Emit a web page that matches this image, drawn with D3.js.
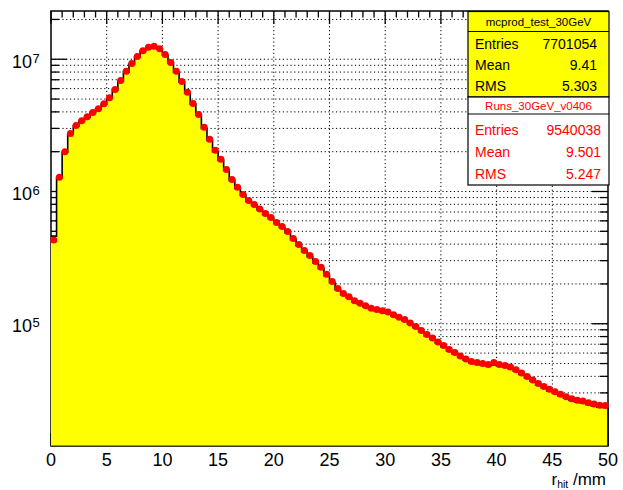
<!DOCTYPE html>
<html>
<head>
<meta charset="utf-8">
<script src="https://cdn.jsdelivr.net/npm/d3@7"></script>
<style>
body{margin:0;background:#fff;}
text{font-family:"Liberation Sans",Arial,Helvetica,sans-serif;}
</style>
</head>
<body>
<div id="plot"></div>
<script>
// histogram binning (r_hit in mm)
var xLow = 0, xHigh = 50, nBins = 100;

// mcprod_test_30GeV (yellow filled histogram)
var mcCounts = [4.6e5,1.27e6,1.98e6,2.72e6,3.12e6,3.40e6,3.65e6,3.92e6,4.20e6,4.57e6,
  5.08e6,5.84e6,6.83e6,8.0e6,9.2e6,1.04e7,1.155e7,1.227e7,1.248e7,1.195e7,
  1.076e7,9.36e6,8.0e6,6.7e6,5.54e6,4.57e6,3.77e6,3.0e6,2.43e6,2.0e6,
  1.72e6,1.445e6,1.213e6,1.055e6,9.33e5,8.4e5,7.83e5,7.25e5,6.7e5,6.24e5,
  5.73e5,5.34e5,4.89e5,4.33e5,3.9e5,3.51e5,3.21e5,2.9e5,2.61e5,2.31e5,
  2.04e5,1.81e5,1.66e5,1.575e5,1.47e5,1.405e5,1.345e5,1.288e5,1.255e5,1.233e5,
  1.2e5,1.15e5,1.1e5,1.053e5,9.94e4,9.32e4,8.7e4,8.1e4,7.63e4,7.12e4,
  6.69e4,6.24e4,5.92e4,5.58e4,5.29e4,5.07e4,4.98e4,4.89e4,4.81e4,4.85e4,
  4.8e4,4.73e4,4.6e4,4.37e4,4.14e4,3.9e4,3.67e4,3.45e4,3.27e4,3.11e4,
  2.98e4,2.85e4,2.73e4,2.63e4,2.56e4,2.52e4,2.45e4,2.39e4,2.34e4,2.33e4];

// Runs_30GeV_v0406 (red markers)
var dataCounts = [4.3e5,1.28e6,2.0e6,2.75e6,3.15e6,3.43e6,3.68e6,3.95e6,4.23e6,4.6e6,
  5.12e6,5.9e6,6.9e6,8.1e6,9.3e6,1.05e7,1.16e7,1.235e7,1.255e7,1.2e7,
  1.085e7,9.45e6,8.1e6,6.8e6,5.62e6,4.63e6,3.82e6,3.06e6,2.48e6,2.05e6,
  1.75e6,1.47e6,1.235e6,1.075e6,9.5e5,8.55e5,7.98e5,7.38e5,6.82e5,6.36e5,
  5.83e5,5.44e5,4.98e5,4.41e5,3.98e5,3.58e5,3.28e5,2.96e5,2.67e5,2.37e5,
  2.09e5,1.85e5,1.69e5,1.6e5,1.495e5,1.43e5,1.37e5,1.31e5,1.28e5,1.256e5,
  1.225e5,1.172e5,1.122e5,1.075e5,1.015e5,9.52e4,8.89e4,8.28e4,7.8e4,7.28e4,
  6.84e4,6.38e4,6.06e4,5.7e4,5.41e4,5.18e4,5.1e4,5.0e4,4.92e4,5.1e4,
  4.92e4,4.84e4,4.71e4,4.48e4,4.25e4,3.99e4,3.76e4,3.54e4,3.36e4,3.19e4,
  3.06e4,2.93e4,2.81e4,2.71e4,2.64e4,2.6e4,2.53e4,2.47e4,2.42e4,2.41e4];

var xTicks = [0,5,10,15,20,25,30,35,40,45,50];
var yDecades = [5,6,7];

var statsMC = {title:'mcprod_test_30GeV', rows:[['Entries','7701054'],['Mean','9.41'],['RMS','5.303']]};
var statsData = {title:'Runs_30GeV_v0406', rows:[['Entries','9540038'],['Mean','9.501'],['RMS','5.247']]};

//Set up the drawing environment here
var margin = {t:11,r:15,b:44,l:51};
var W = 623, H = 490;
var width = W-margin.l-margin.r,
	height = H-margin.t-margin.b;

var svg = d3.select('#plot')
	.append('svg')
	.attr('width',W)
	.attr('height',H);

var plot = svg.append('g')
	.attr('transform','translate('+margin.l+','+margin.t+')');

var x = d3.scaleLinear().domain([xLow,xHigh]).range([0,width]);
var y = d3.scaleLog().domain([1.19e4,2.317e7]).range([height,0]);

var binW = (xHigh-xLow)/nBins;

// grid
var yLogTicks = [];
for (var d=4; d<=7; d++) {
	for (var k=1; k<=9; k++) {
		var v = k*Math.pow(10,d);
		if (v>=y.domain()[0] && v<=y.domain()[1]) yLogTicks.push({v:v, major:k==1});
	}
}
var dash = '1.2,2.6';
plot.selectAll('.gx').data(xTicks.slice(1,-1)).enter().append('line')
	.attr('x1',function(d){return x(d);}).attr('x2',function(d){return x(d);})
	.attr('y1',0).attr('y2',height)
	.style('stroke','#000').style('stroke-width',1).style('stroke-dasharray',dash);
plot.selectAll('.gy').data(yLogTicks).enter().append('line')
	.attr('x1',0).attr('x2',width)
	.attr('y1',function(d){return y(d.v);}).attr('y2',function(d){return y(d.v);})
	.style('stroke','#000').style('stroke-width',1).style('stroke-dasharray',dash);

// ticks on all four sides
yLogTicks.forEach(function(t){
	var len = t.major ? 16 : 8;
	plot.append('line').attr('x1',0).attr('x2',len).attr('y1',y(t.v)).attr('y2',y(t.v))
		.style('stroke','#000').style('stroke-width',1.3);
	plot.append('line').attr('x1',width-len).attr('x2',width).attr('y1',y(t.v)).attr('y2',y(t.v))
		.style('stroke','#000').style('stroke-width',1.3);
});
for (var m=xLow; m<=xHigh; m++) {
	var len = (m%5==0) ? 13 : 6.5;
	plot.append('line').attr('x1',x(m)).attr('x2',x(m)).attr('y1',0).attr('y2',len)
		.style('stroke','#000').style('stroke-width',1.3);
	plot.append('line').attr('x1',x(m)).attr('x2',x(m)).attr('y1',height-len).attr('y2',height)
		.style('stroke','#000').style('stroke-width',1.3);
}

// frame
plot.append('rect').attr('x',0).attr('y',0).attr('width',width).attr('height',height)
	.style('fill','none').style('stroke','#000').style('stroke-width',1.5);

// histogram (filled, step)
var steps = mcCounts.map(function(c,i){return {x:xLow+i*binW, c:c};});
steps.push({x:xHigh, c:mcCounts[nBins-1]});

var area = d3.area().curve(d3.curveStepAfter)
	.x(function(d){return x(d.x);})
	.y0(height)
	.y1(function(d){return y(d.c);});
plot.append('path').datum(steps).attr('d',area).style('fill','#ffff00').style('stroke','none');

var line = d3.line().curve(d3.curveStepAfter)
	.x(function(d){return x(d.x);})
	.y(function(d){return y(d.c);});
plot.append('path').datum(steps).attr('d',line)
	.style('fill','none').style('stroke','#000').style('stroke-width',1.6);
plot.append('line').attr('x1',width).attr('x2',width).attr('y1',y(mcCounts[nBins-1])).attr('y2',height)
	.style('stroke','#000').style('stroke-width',1.6);
plot.append('line').attr('x1',0).attr('x2',width).attr('y1',height).attr('y2',height)
	.style('stroke','#333').style('stroke-width',1);

// data markers
plot.selectAll('.pt').data(dataCounts).enter().append('circle')
	.attr('cx',function(d,i){return x(xLow+(i+0.5)*binW);})
	.attr('cy',function(d){return y(d);})
	.attr('r',3.5)
	.style('fill','#ff0000');

// axis labels
plot.selectAll('.xl').data(xTicks).enter().append('text')
	.attr('x',function(d){return x(d);})
	.attr('y',height+20)
	.attr('text-anchor','middle')
	.style('font-size','18px')
	.text(function(d){return d;});

yDecades.forEach(function(e){
	var yy = y(Math.pow(10,e));
	plot.append('text').attr('x',-19).attr('y',yy+8.5).attr('text-anchor','end')
		.style('font-size','18px').text('10');
	plot.append('text').attr('x',-18.5).attr('y',yy+3.5)
		.style('font-size','13px').text(e);
});

var title = svg.append('text').attr('x',606).attr('y',485).attr('text-anchor','end')
	.style('font-size','17px');
title.append('tspan').text('r');
title.append('tspan').attr('dy',3).style('font-size','10.5px').text('hit');
title.append('tspan').attr('dy',-3).text(' /mm');

// stats boxes
function statsBox(s, top, titleH, rowYs, bottom, fill, col, valX) {
	var bx = 468, bw = 141;
	svg.append('rect').attr('x',bx).attr('y',top).attr('width',bw).attr('height',bottom-top)
		.style('fill',fill).style('stroke','#000').style('stroke-width',1.2);
	svg.append('line').attr('x1',bx).attr('x2',bx+bw).attr('y1',top+titleH).attr('y2',top+titleH)
		.style('stroke','#000').style('stroke-width',1.2);
	svg.append('text').attr('x',bx+bw/2).attr('y',top+titleH/2+4).attr('text-anchor','middle')
		.style('font-size','11.5px').style('fill',col).text(s.title);
	s.rows.forEach(function(r,i){
		svg.append('text').attr('x',475).attr('y',rowYs[i]+5).style('font-size','14px')
			.style('fill',col).text(r[0]);
		svg.append('text').attr('x',valX).attr('y',rowYs[i]+5).attr('text-anchor','end')
			.style('font-size','14px').style('fill',col).text(r[1]);
	});
}
statsBox(statsMC, 11.5, 20, [43.5,64.5,86], 97, '#ffff00', '#000', 597);
statsBox(statsData, 97, 17, [129.5,152,173.5], 185, '#ffffff', '#ff0000', 601);
</script>
</body>
</html>
